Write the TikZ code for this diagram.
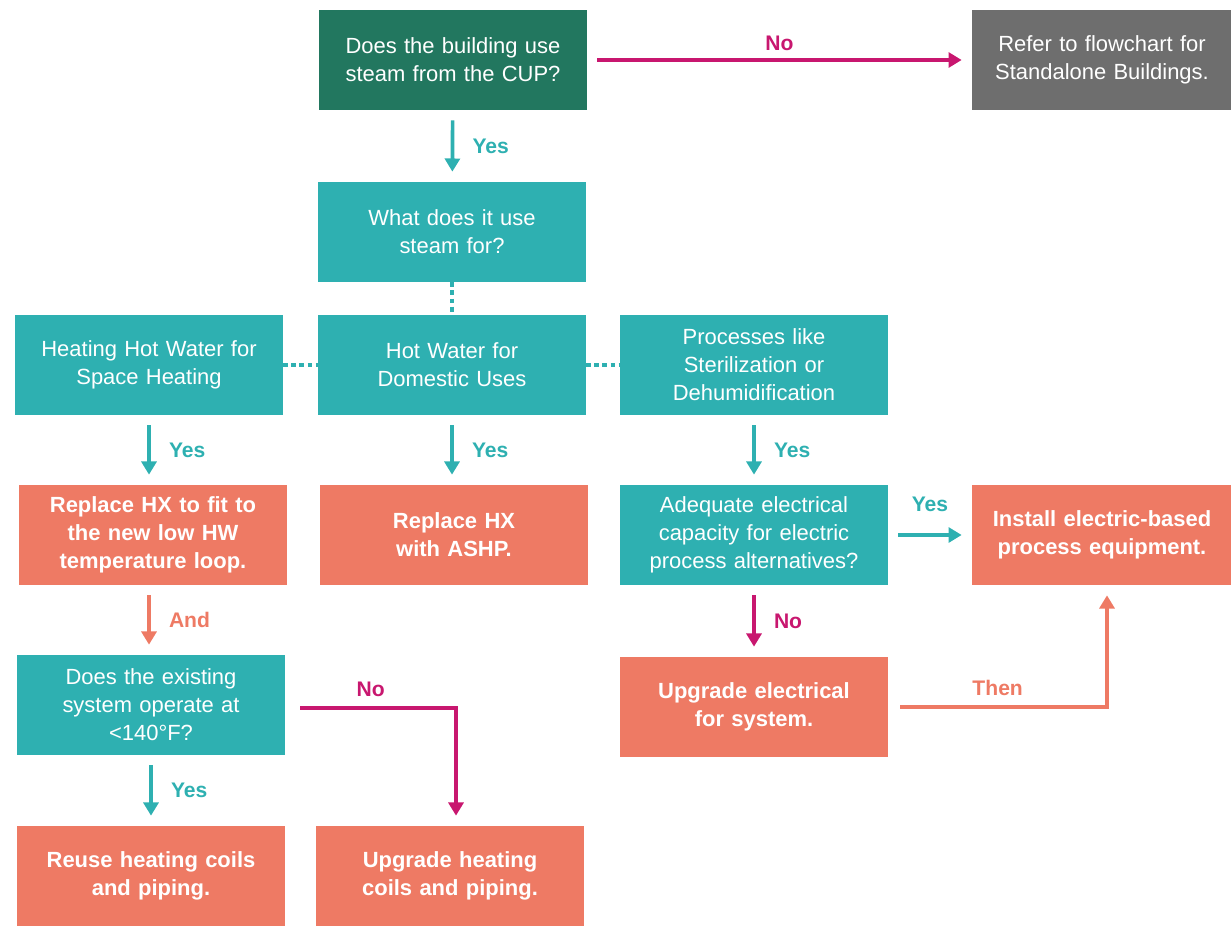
\documentclass[tikz,border=0pt]{standalone}
\usepackage{fontspec}
\setmainfont{Liberation Sans}
\usetikzlibrary{arrows.meta}
\definecolor{cupgreen}{HTML}{22775F}
\definecolor{qteal}{HTML}{2EB0B1}
\definecolor{aorange}{HTML}{EE7A64}
\definecolor{refgray}{HTML}{6E6E6E}
\definecolor{nomag}{HTML}{C8176F}
\begin{document}
\begin{tikzpicture}[x=0.02cm, y=-0.02cm,
   box/.style={minimum width=5.36cm, minimum height=2cm, text width=5.2cm, align=center,
               inner sep=0pt, text=white, font=\fontsize{12.5}{16}\selectfont},
   qbox/.style={box, fill=qteal},
   abox/.style={box, fill=aorange, font=\bfseries\fontsize{12.5}{16}\selectfont},
   flow/.style={line width=2.1pt, -{Triangle[length=7.5pt,width=8.5pt]},
                shorten <=0.2cm, shorten >=0.2cm},
   lbl/.style={font=\bfseries\fontsize{12}{14}\selectfont},
   link/.style={qteal, line width=2.4pt, dash pattern=on 2.8pt off 1.8pt}]
         \useasboundingbox (0,0) rectangle (1231,926);
         \node [box, fill=cupgreen] (Q1) at (453, 60) {Does the building use\\steam from the CUP?};
         \node [box, fill=refgray, minimum width=5.16cm] (RF) at (1102, 60) {Refer to flowchart for\\Standalone Buildings.};
         \node [qbox] (Q2) at (452, 232) {What does it use\\steam for?};
         \node [qbox] (HW) at (149, 365) {Heating Hot Water for\\Space Heating};
         \node [qbox] (DW) at (452, 365) {Hot Water for\\Domestic Uses};
         \node [qbox] (PR) at (754, 365) {Processes like\\Sterilization or\\Dehumidification};
         \node [abox] (RH) at (153, 535) {Replace HX to fit to\\the new low HW\\temperature loop.};
         \node [abox] (RA) at (454, 535) {Replace HX\\with ASHP.};
         \node [qbox] (AE) at (754, 535) {Adequate electrical\\capacity for electric\\process alternatives?};
         \node [abox, minimum width=5.16cm] (IE) at (1102, 535) {Install electric-based\\process equipment.};
         \node [qbox] (EX) at (151, 705) {Does the existing\\system operate at\\<140°F?};
         \node [abox] (UE) at (754, 707) {Upgrade electrical\\for system.};
         \node [abox] (RC) at (151, 876) {Reuse heating coils\\and piping.};
         \node [abox] (UC) at (450, 876) {Upgrade heating\\coils and piping.};
         \draw [flow, qteal] (Q1) -- node [lbl, right=7pt] {Yes} (Q2);
         \draw [flow, nomag] (Q1) -- node [lbl, above=1pt] {No} (RF);
         \draw [link] (Q2) -- (DW);
         \draw [link] (HW) -- (DW);
         \draw [link] (DW) -- (PR);
         \draw [flow, qteal] (HW.south) -- node [lbl, right=7pt] {Yes} (HW.south |- RH.north);
         \draw [flow, qteal] (DW) -- node [lbl, right=7pt] {Yes} (DW |- RA.north);
         \draw [flow, qteal] (PR) -- node [lbl, right=7pt] {Yes} (AE);
         \draw [flow, aorange] (RH.south -| HW.south) -- node [lbl, right=7pt] {And} (EX.north -| HW.south);
         \draw [flow, nomag] (AE) -- node [lbl, right=7pt] {No} (UE);
         \draw [flow, qteal] (AE) -- node [lbl, above=9pt] {Yes} (IE);
         \draw [flow, nomag, shorten <=0.3cm] ([yshift=-0.06cm]EX.east) -| node [lbl, pos=0.25, above=2pt] {No} ([xshift=0.12cm]UC.north);
         \draw [flow, aorange, shorten <=0.24cm] (UE.east) -| node [lbl, pos=0.25, above=2pt] {Then} ([xshift=0.1cm]IE.south);
         \draw [flow, qteal] (EX) -- node [lbl, right=7pt] {Yes} (RC);
\end{tikzpicture}
\end{document}
